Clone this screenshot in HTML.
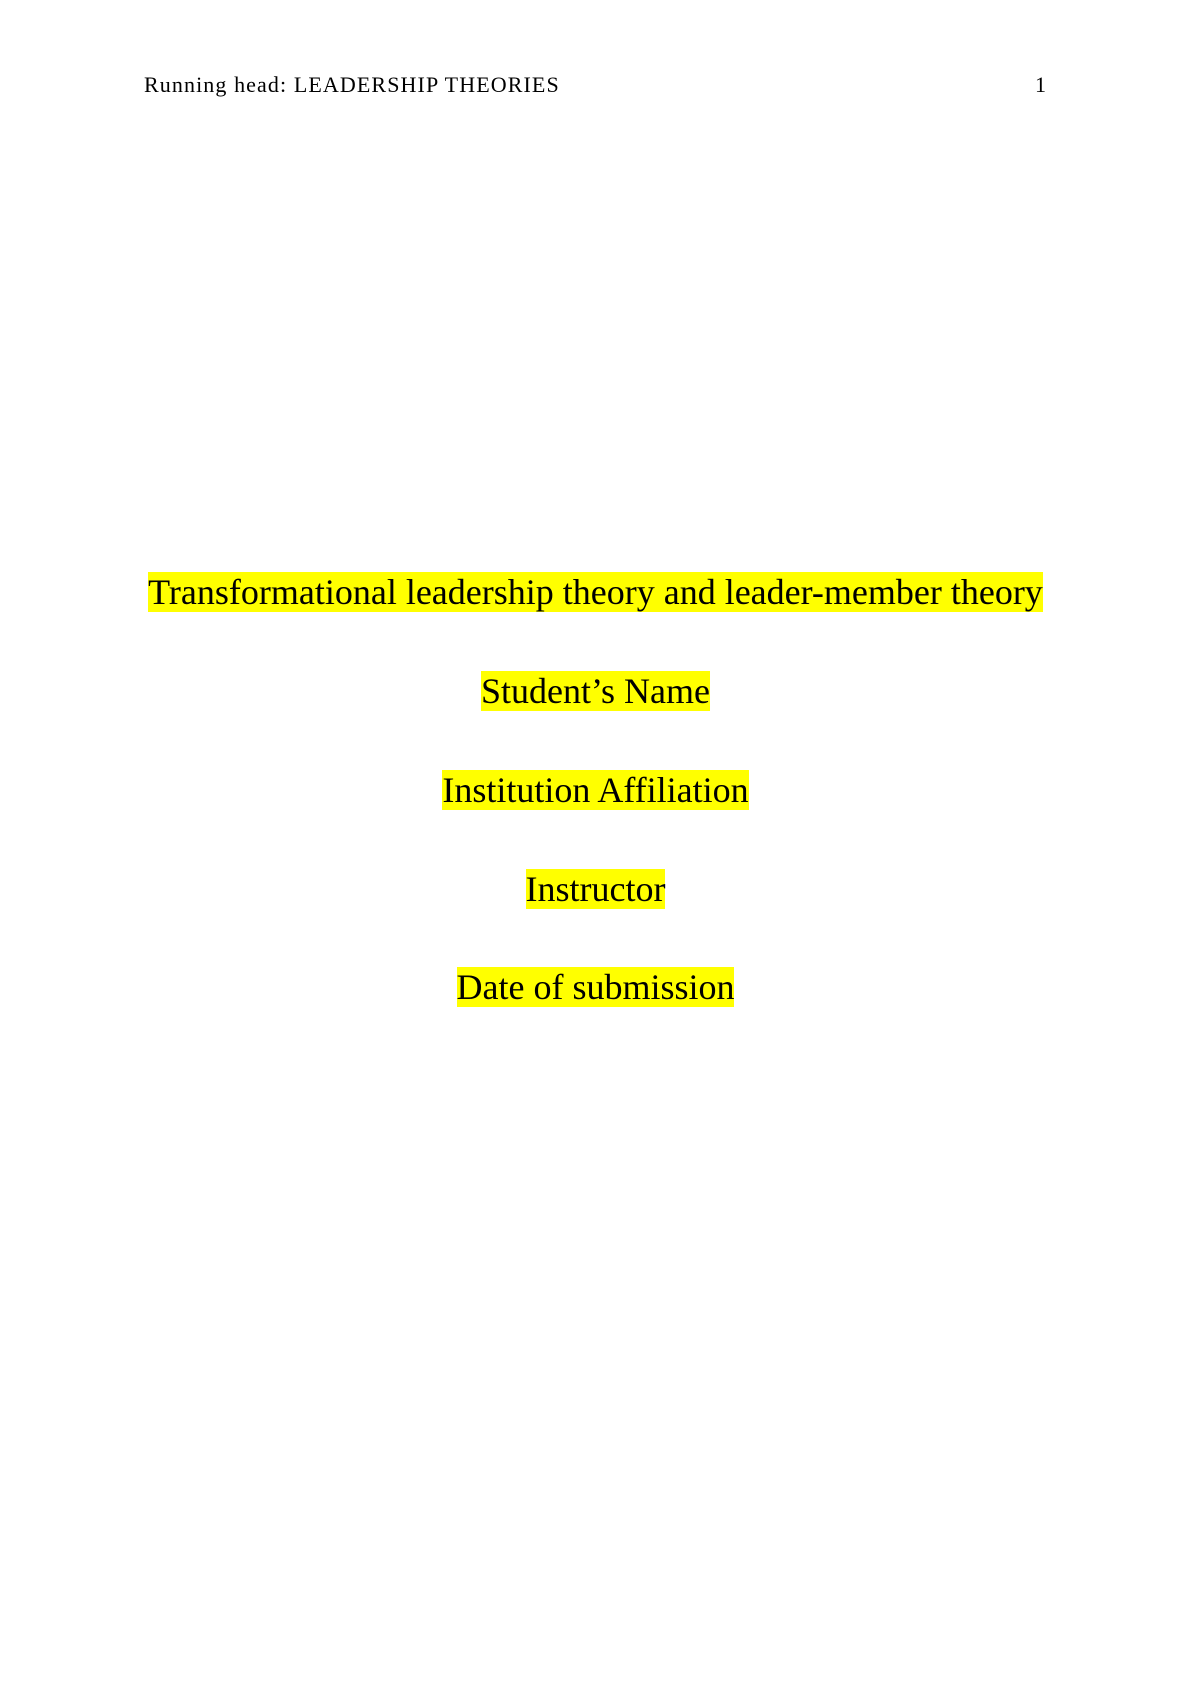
<!DOCTYPE html>
<html><head><meta charset="utf-8"><style>
body{margin:0;width:1191px;height:1684px;background:#fff;font-family:"Liberation Serif",serif;color:#000;position:relative;overflow:hidden}
.h{position:absolute;top:73px;font-size:22px;line-height:24px;letter-spacing:1.1px}
.c{position:absolute;left:0;width:1191px;text-align:center;font-size:36px;line-height:42px}
.c span{background:#ffff00}
</style></head><body>
<div class="h" style="left:144px">Running head: LEADERSHIP THEORIES</div>
<div class="h" style="left:1035px">1</div>
<div class="c" style="top:571px"><span>Transformational leadership theory and leader-member theory</span></div>
<div class="c" style="top:670px"><span>Student’s Name</span></div>
<div class="c" style="top:769px"><span>Institution Affiliation</span></div>
<div class="c" style="top:868px"><span>Instructor</span></div>
<div class="c" style="top:966px"><span>Date of submission</span></div>
</body></html>
